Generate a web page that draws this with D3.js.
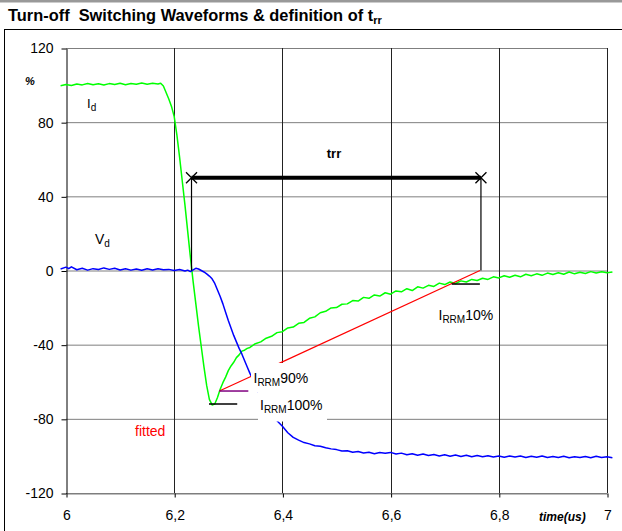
<!DOCTYPE html>
<html><head><meta charset="utf-8">
<script src="https://cdn.jsdelivr.net/npm/d3@7"></script>
<style>body{margin:0;background:#fff}svg{display:block}text{font-family:"Liberation Sans",Arial,sans-serif}</style>
</head><body>
<svg id="c" width="622" height="531"></svg>
<script>
// ---- data ----
const xTicks = [6, 6.2, 6.4, 6.6, 6.8, 7];
const xTickLabels = ["6", "6,2", "6,4", "6,6", "6,8", "7"];
const yTicks = [-120, -80, -40, 0, 40, 80, 120];

const idTime = [5.99,6.00,6.01,6.02,6.03,6.04,6.05,6.06,6.07,6.08,6.09,6.10,6.11,6.12,6.13,6.14,6.15,6.16,6.17,6.175,
 6.18,6.185,6.19,6.195,6.20,6.205,6.21,6.215,6.22,6.225,6.23,6.235,6.24,6.245,6.25,6.255,6.26,6.265,6.27,6.275,
 6.28,6.285,6.29,6.295,6.30,6.305,6.31,6.315,6.32,6.325,6.33,6.335,6.34,6.35,6.36,6.37,6.38,6.39,6.40,6.41,6.42,
 6.43,6.44,6.45,6.46,6.47,6.48,6.49,6.50,6.51,6.52,6.53,6.54,6.55,6.56,6.57,6.58,6.59,6.60,6.61,6.62,6.63,6.64,
 6.65,6.66,6.67,6.68,6.69,6.70,6.71,6.72,6.73,6.74,6.75,6.76,6.77,6.78,6.79,6.80,6.81,6.82,6.83,6.84,6.85,6.86,
 6.87,6.88,6.89,6.90,6.91,6.92,6.93,6.94,6.95,6.96,6.97,6.98,6.99,7.00,7.01];
const idValue = [99.6,100.3,99.8,100.6,100.1,100.9,100.2,100.7,100.0,100.8,100.3,101.0,100.2,100.9,100.4,101.1,100.5,101.0,100.6,101.0,
 99.5,96,92.5,88.5,83,73,61,48,35,21,7,-6,-18,-30,-41,-52,-62,-69.5,-72.5,-72,
 -68.5,-64,-60.5,-57.5,-54,-51.5,-49.5,-47,-45.5,-43.5,-43,-42,-41.5,-39.5,-38.5,-36.5,-35.5,-33.5,-33,-31,-30.5,
 -28.5,-28,-25.8,-25,-22.8,-22,-20.2,-20,-18.2,-18,-16.2,-16.5,-14.5,-15,-13.2,-13.8,-12,-12.8,-11,-11.5,-9.8,-10.8,
 -8.8,-9.5,-8,-8.6,-6.8,-7.6,-6.2,-7,-5.6,-6.2,-4.8,-5.4,-4.2,-4.8,-3.4,-4.0,-2.8,-3.6,-2.6,-3.4,-2.0,-2.8,
 -1.8,-2.6,-1.4,-2.2,-1.2,-2.0,-0.8,-1.8,-0.9,-1.6,-0.6,-1.4,-0.7,-1.2,-0.8];

const vdTime = [5.99,6.00,6.005,6.01,6.02,6.03,6.04,6.05,6.06,6.07,6.08,6.09,6.10,6.11,6.12,6.13,6.14,6.15,6.16,6.17,6.18,6.19,6.20,
 6.21,6.22,6.225,6.23,6.235,6.24,6.245,6.25,6.255,6.26,6.265,6.27,6.275,6.28,6.285,6.29,6.295,6.30,6.305,6.31,6.315,6.32,
 6.325,6.33,6.335,6.34,6.345,6.35,6.36,6.37,6.38,6.39,6.40,6.41,6.42,6.43,6.44,6.45,6.46,6.47,6.48,6.49,6.50,6.51,6.52,
 6.53,6.54,6.55,6.56,6.57,6.58,6.59,6.60,6.61,6.62,6.63,6.64,6.65,6.66,6.67,6.68,6.69,6.70,6.71,6.72,6.73,6.74,6.75,6.76,
 6.77,6.78,6.79,6.80,6.81,6.82,6.83,6.84,6.85,6.86,6.87,6.88,6.89,6.90,6.91,6.92,6.93,6.94,6.95,6.96,6.97,6.98,6.99,7.00,7.01];
const vdValue = [0.8,1.8,1.0,2.0,0.4,1.2,0.2,1.0,0.5,1.4,0.6,1.2,0.3,0.9,0.2,0.8,0.1,0.9,0.3,0.9,0.4,0.6,0.0,
 0.5,-0.3,0.2,-0.6,0.3,1.2,0.8,0.0,-0.8,-1.8,-3,-4.5,-7,-10.5,-14,-18,-22.5,-27,-31,-35,-38.5,-42,
 -45,-48.5,-52,-55.5,-58.5,-62,-68,-73,-77.5,-81,-84,-87.5,-90,-91.5,-92.8,-93.5,-94.5,-94.8,-95.6,-96.2,-96.6,-97.4,-97.2,
 -98.0,-97.6,-98.4,-98.0,-98.8,-98.2,-98.6,-98.1,-99.0,-98.5,-99.4,-98.8,-99.6,-99.0,-99.8,-99.2,-100.0,-99.4,-100.2,-99.5,-100.3,-99.6,-100.4,-99.8,
 -100.5,-99.9,-100.6,-100.1,-100.7,-100.0,-100.6,-100.1,-100.8,-100.2,-100.7,-100.0,-100.9,-100.3,-100.8,-100.2,-101.0,-100.4,-100.9,-100.3,-101.0,-100.2,-100.8,-100.4,-101.0];

// trr definition annotations (time in us, value in %)
const trrStart = 6.232, trrEnd = 6.767, trrLevel = 50;
const irrm100 = -72, irrm90 = -65, irrm10 = -7.3;
const fitStart = [6.2834, -65], fitEnd = [6.7652, 0];
const mark90 = [6.2834, 6.337];
const mark100 = [6.2643, 6.3165];
const mark10 = [6.713, 6.765];

// ---- drawing ----
const svg = d3.select("#c");
const x = d3.scaleLinear().domain([6, 7]).range([66, 607]);
const y = d3.scaleLinear().domain([-120, 120]).range([493, 48]);

// top band & frame
svg.append("rect").attr("x",0).attr("y",0).attr("width",622).attr("height",2.5).attr("fill","#999");
svg.append("rect").attr("x",4.5).attr("y",29.5).attr("width",640).attr("height",540)
  .attr("fill","none").attr("stroke","#000").attr("stroke-width",1);

// title
const title = svg.append("text").attr("x",8).attr("y",20.5).attr("font-size",16.4).attr("font-weight","bold")
  .style("white-space","pre").attr("fill","#000");
title.append("tspan").text("Turn-off  Switching Waveforms & definition of t");
title.append("tspan").attr("font-size",11).attr("dy",3).text("rr");

// gridlines
svg.append("g").selectAll("line").data(yTicks).join("line")
  .attr("x1",x(6)).attr("x2",x(7)).attr("y1",d=>y(d)+0.5).attr("y2",d=>y(d)+0.5)
  .attr("stroke","#7f7f7f").attr("stroke-width",1);
svg.append("g").selectAll("line").data(xTicks.slice(1)).join("line")
  .attr("x1",d=>Math.round(x(d))+0.5).attr("x2",d=>Math.round(x(d))+0.5).attr("y1",y(120)).attr("y2",y(-120))
  .attr("stroke","#222").attr("stroke-width",1);

// axes
const yAxis = svg.append("g").attr("transform",`translate(${x(6)+0.5},0.5)`)
  .call(d3.axisLeft(y).tickValues(yTicks).tickSize(5).tickSizeOuter(0).tickPadding(8).tickFormat(d=>String(d)));
yAxis.select(".domain").attr("stroke","#000");
yAxis.selectAll("text").attr("font-size",14).attr("font-family","'Liberation Sans',Arial,sans-serif").attr("fill","#000");

const xAxis = svg.append("g").attr("transform",`translate(0.5,${y(-120)+0.5})`)
  .call(d3.axisBottom(x).tickValues(xTicks).tickSize(4).tickSizeOuter(0).tickPadding(13).tickFormat((d,i)=>xTickLabels[i]));
xAxis.select(".domain").attr("stroke","#7f7f7f");
xAxis.selectAll("text").attr("font-size",14).attr("font-family","'Liberation Sans',Arial,sans-serif").attr("fill","#000");

// curves
const line = d3.line().x(d=>x(d[0])).y(d=>y(d[1]));
svg.append("path").datum(idTime.map((t,i)=>[t,idValue[i]])).attr("d",line)
  .attr("fill","none").attr("stroke","#00ff00").attr("stroke-width",1.5).attr("stroke-linejoin","round");
svg.append("path").datum(vdTime.map((t,i)=>[t,vdValue[i]])).attr("d",line)
  .attr("fill","none").attr("stroke","#0000ff").attr("stroke-width",1.5).attr("stroke-linejoin","round");

// fitted line
svg.append("line").attr("x1",x(fitStart[0])).attr("y1",y(fitStart[1])).attr("x2",x(fitEnd[0])).attr("y2",y(fitEnd[1]))
  .attr("stroke","#ff0000").attr("stroke-width",1.2);
// short level markers
svg.append("line").attr("x1",x(mark90[0])).attr("x2",x(mark90[1])).attr("y1",y(irrm90)).attr("y2",y(irrm90))
  .attr("stroke","#800080").attr("stroke-width",1.5);
svg.append("line").attr("x1",x(mark100[0])).attr("x2",x(mark100[1])).attr("y1",y(irrm100)).attr("y2",y(irrm100))
  .attr("stroke","#000").attr("stroke-width",1.5);
svg.append("line").attr("x1",x(mark10[0])).attr("x2",x(mark10[1])).attr("y1",y(irrm10)).attr("y2",y(irrm10))
  .attr("stroke","#000").attr("stroke-width",1.5);

// trr bar
[trrStart, trrEnd].forEach(t=>{
  svg.append("line").attr("x1",x(t)).attr("x2",x(t)).attr("y1",y(trrLevel)).attr("y2",y(0))
    .attr("stroke","#000").attr("stroke-width",1.2);
});
svg.append("line").attr("x1",x(trrStart)).attr("x2",x(trrEnd)).attr("y1",y(trrLevel)).attr("y2",y(trrLevel))
  .attr("stroke","#000").attr("stroke-width",4);
[trrStart, trrEnd].forEach(t=>{
  const cx=x(t), cy=y(trrLevel), s=5.5;
  svg.append("path").attr("d",`M${cx-s},${cy-s}L${cx+s},${cy+s}M${cx-s},${cy+s}L${cx+s},${cy-s}`)
    .attr("stroke","#000").attr("stroke-width",1.3);
});

// label boxes (white background behind labels)
svg.append("rect").attr("x",251).attr("y",363).attr("width",60).attr("height",29).attr("fill","#fff");
svg.append("rect").attr("x",258).attr("y",392).attr("width",69).attr("height",29.5).attr("fill","#fff");

function subLabel(px, py, main, sub, tail, color, size, subSize){
  const t = svg.append("text").attr("x",px).attr("y",py).attr("font-size",size).attr("fill",color);
  t.append("tspan").text(main);
  t.append("tspan").attr("font-size",subSize).attr("dy",3).text(sub);
  if (tail) t.append("tspan").attr("font-size",size).attr("dy",-3).text(tail);
  return t;
}
subLabel(87, 107.5, "I", "d", "", "#000", 13, 10);
subLabel(95, 243.5, "V", "d", "", "#000", 14, 10);
subLabel(253.5, 382.5, "I", "RRM", "90%", "#000", 14, 10);
subLabel(260, 410, "I", "RRM", "100%", "#000", 14, 10);
subLabel(438.5, 320, "I", "RRM", "10%", "#000", 14, 10);

svg.append("text").attr("x",334).attr("y",158).attr("text-anchor","middle").attr("font-size",13)
  .attr("font-weight","bold").attr("fill","#000").text("trr");
svg.append("text").attr("x",135).attr("y",436).attr("font-size",14).attr("fill","#ff0000").text("fitted");
svg.append("text").attr("x",25).attr("y",85).attr("font-size",11).attr("font-style","italic").attr("font-weight","bold")
  .attr("font-family","'Liberation Serif','Times New Roman',serif").attr("fill","#000").text("%");
svg.append("text").attr("x",539).attr("y",521).attr("font-size",12).attr("font-style","italic").attr("font-weight","bold")
  .attr("font-family","'Liberation Serif','Times New Roman',serif").attr("fill","#000").text("time(us)");
</script>
</body></html>
